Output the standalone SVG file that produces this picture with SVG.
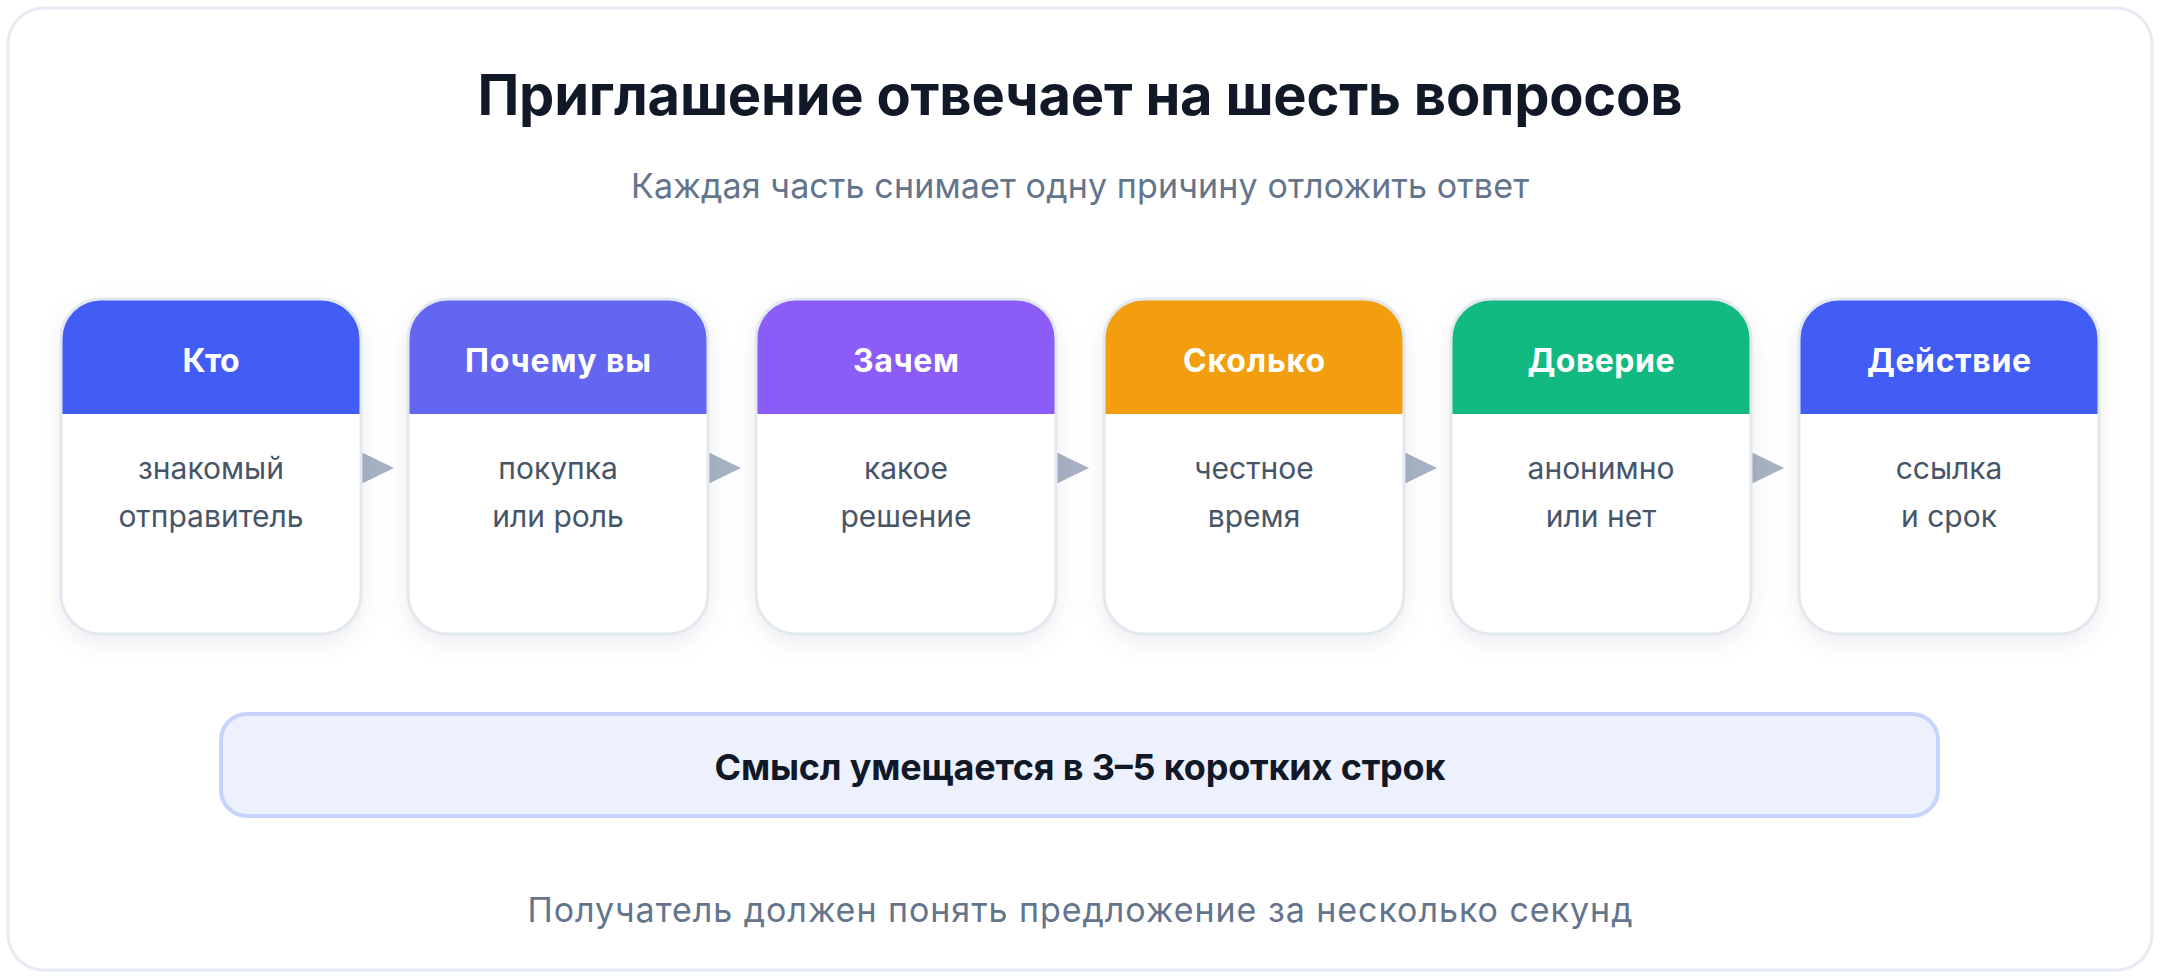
<svg xmlns="http://www.w3.org/2000/svg" width="2160" height="978" viewBox="0 0 2160 978">
<defs>
<filter id="sh" x="-20%" y="-20%" width="140%" height="150%">
<feDropShadow dx="0" dy="8" stdDeviation="12" flood-color="#1e293b" flood-opacity="0.08"/>
</filter>
<style>
.title{font-family:Inter,"Liberation Sans",sans-serif;font-weight:700;font-size:56px;fill:#111827;text-anchor:middle}
.sub{font-family:Inter,"Liberation Sans",sans-serif;font-size:34px;fill:#64748b;text-anchor:middle}
.foot{font-family:Inter,"Liberation Sans",sans-serif;font-size:34px;fill:#64748b;text-anchor:middle}
.hd{font-family:Inter,"Liberation Sans",sans-serif;font-weight:700;font-size:32px;fill:#ffffff;text-anchor:middle}
.bd{font-family:Inter,"Liberation Sans",sans-serif;font-size:30px;fill:#475569;text-anchor:middle}
.ban{font-family:Inter,"Liberation Sans",sans-serif;font-weight:700;font-size:36px;fill:#111827;text-anchor:middle}
.card{fill:#ffffff}
.cardb{fill:none;stroke:#e2e8f0;stroke-width:3}
.arr{fill:#a7b1c4}
</style>
</defs>
<rect x="0" y="0" width="2160" height="978" fill="#ffffff"/>
<rect x="8" y="8" width="2144" height="962" rx="36" fill="#ffffff" stroke="#e6ebf3" stroke-width="3"/>
<text class="title" x="1080" y="115" textLength="1205" lengthAdjust="spacing">Приглашение отвечает на шесть вопросов</text>
<text class="sub" x="1080" y="198" textLength="898" lengthAdjust="spacing">Каждая часть снимает одну причину отложить ответ</text>
<g id="connectors">
<polygon class="arr" points="361,452 394,468 361,484"/>
<polygon class="arr" points="708,452 741,468 708,484"/>
<polygon class="arr" points="1056,452 1089,468 1056,484"/>
<polygon class="arr" points="1404,452 1437,468 1404,484"/>
<polygon class="arr" points="1751,452 1784,468 1751,484"/>
</g>
<g id="n1">
<rect class="card" x="61" y="299" width="300" height="335" rx="40" filter="url(#sh)"/>
<path d="M61,414 V339 A40,40 0 0 1 101,299 H321 A40,40 0 0 1 361,339 V414 Z" fill="#425df5"/>
<rect class="cardb" x="61" y="299" width="300" height="335" rx="40"/>
<text class="hd" x="211" y="372" textLength="57" lengthAdjust="spacing">Кто</text>
<text class="bd" x="211" y="479">знакомый</text>
<text class="bd" x="211" y="527">отправитель</text>
</g>
<g id="n2">
<rect class="card" x="408" y="299" width="300" height="335" rx="40" filter="url(#sh)"/>
<path d="M408,414 V339 A40,40 0 0 1 448,299 H668 A40,40 0 0 1 708,339 V414 Z" fill="#6366f1"/>
<rect class="cardb" x="408" y="299" width="300" height="335" rx="40"/>
<text class="hd" x="558" y="372" textLength="186" lengthAdjust="spacing">Почему вы</text>
<text class="bd" x="558" y="479">покупка</text>
<text class="bd" x="558" y="527">или роль</text>
</g>
<g id="n3">
<rect class="card" x="756" y="299" width="300" height="335" rx="40" filter="url(#sh)"/>
<path d="M756,414 V339 A40,40 0 0 1 796,299 H1016 A40,40 0 0 1 1056,339 V414 Z" fill="#8b5cf6"/>
<rect class="cardb" x="756" y="299" width="300" height="335" rx="40"/>
<text class="hd" x="906" y="372" textLength="106" lengthAdjust="spacing">Зачем</text>
<text class="bd" x="906" y="479">какое</text>
<text class="bd" x="906" y="527">решение</text>
</g>
<g id="n4">
<rect class="card" x="1104" y="299" width="300" height="335" rx="40" filter="url(#sh)"/>
<path d="M1104,414 V339 A40,40 0 0 1 1144,299 H1364 A40,40 0 0 1 1404,339 V414 Z" fill="#f29e0e"/>
<rect class="cardb" x="1104" y="299" width="300" height="335" rx="40"/>
<text class="hd" x="1254" y="372" textLength="142" lengthAdjust="spacing">Сколько</text>
<text class="bd" x="1254" y="479">честное</text>
<text class="bd" x="1254" y="527">время</text>
</g>
<g id="n5">
<rect class="card" x="1451" y="299" width="300" height="335" rx="40" filter="url(#sh)"/>
<path d="M1451,414 V339 A40,40 0 0 1 1491,299 H1711 A40,40 0 0 1 1751,339 V414 Z" fill="#12b981"/>
<rect class="cardb" x="1451" y="299" width="300" height="335" rx="40"/>
<text class="hd" x="1601" y="372" textLength="147" lengthAdjust="spacing">Доверие</text>
<text class="bd" x="1601" y="479">анонимно</text>
<text class="bd" x="1601" y="527">или нет</text>
</g>
<g id="n6">
<rect class="card" x="1799" y="299" width="300" height="335" rx="40" filter="url(#sh)"/>
<path d="M1799,414 V339 A40,40 0 0 1 1839,299 H2059 A40,40 0 0 1 2099,339 V414 Z" fill="#425df5"/>
<rect class="cardb" x="1799" y="299" width="300" height="335" rx="40"/>
<text class="hd" x="1949" y="372" textLength="164" lengthAdjust="spacing">Действие</text>
<text class="bd" x="1949" y="479">ссылка</text>
<text class="bd" x="1949" y="527">и срок</text>
</g>
<g id="banner">
<rect x="221" y="714" width="1717" height="102" rx="26" fill="#edf1fe" stroke="#c7d2fe" stroke-width="4"/>
<text class="ban" x="1080" y="780" textLength="731" lengthAdjust="spacing">Смысл умещается в 3–5 коротких строк</text>
</g>
<text class="foot" x="1080" y="922" textLength="1105" lengthAdjust="spacing">Получатель должен понять предложение за несколько секунд</text>
</svg>
